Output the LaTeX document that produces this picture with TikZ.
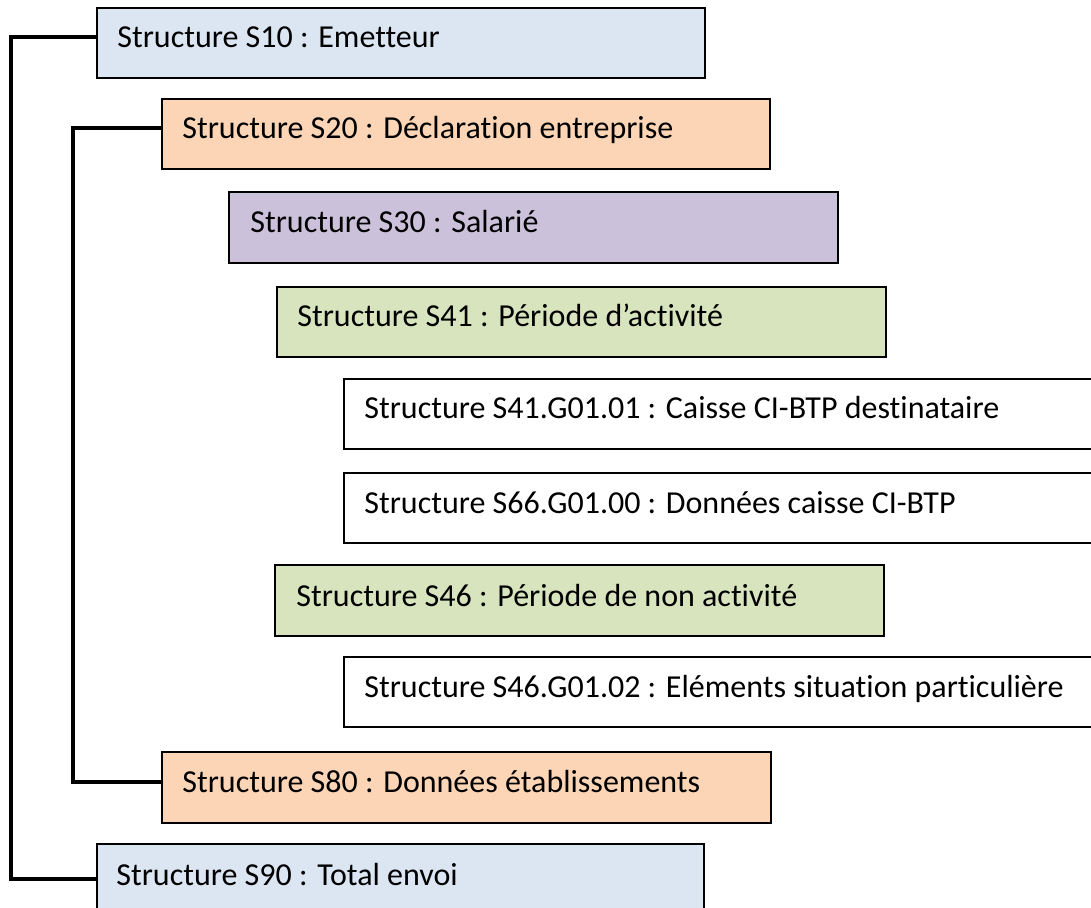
\documentclass[tikz,border=0pt]{standalone}
\usepackage{fontspec}
\setmainfont[Ligatures={NoCommon,NoRare}]{Carlito}
\definecolor{cblue}{HTML}{DCE6F2}
\definecolor{cpeach}{HTML}{FBD5B5}
\definecolor{cpurple}{HTML}{CCC1DA}
\definecolor{cgreen}{HTML}{D7E4BD}
\tikzset{
  box/.style={draw=black, line width=1pt, anchor=north west, inner sep=0pt, minimum height=35pt},
  lbl/.style={anchor=base west, inner sep=0pt, font=\fontsize{16}{19}\selectfont, text=black},
  bracket/.style={draw=black, line width=2pt, line cap=rect}
}
\begin{document}
\begin{tikzpicture}[x=0.5pt, y=-0.5pt]
\useasboundingbox (0,0) rectangle (1091,908);
\clip (0,0) rectangle (1091,908);
\fill[white] (0,0) rectangle (1091,908);
% boxes
\node[box, fill=cblue,   minimum width=304pt] (s10) at (96,7) {};
\node[box, fill=cpeach,  minimum width=304pt] (s20) at (161,98) {};
\node[box, fill=cpurple, minimum width=304.5pt, minimum height=35.5pt] (s30) at (228,191) {};
\node[box, fill=cgreen,  minimum width=304.5pt] (s41) at (276,286) {};
\node[box, fill=white,   minimum width=380pt] (s41g) at (343,378) {};
\node[box, fill=white,   minimum width=380pt] (s66g) at (343,472) {};
\node[box, fill=cgreen,  minimum width=304.5pt, minimum height=35.5pt] (s46) at (274,564) {};
\node[box, fill=white,   minimum width=380pt] (s46g) at (343,656) {};
\node[box, fill=cpeach,  minimum width=304.5pt, minimum height=35.5pt] (s80) at (161,751) {};
\node[box, fill=cblue,   minimum width=303.5pt] (s90) at (96,843) {};
% labels
\node[lbl] (t10) at ([shift={(21,41)}]s10.north west) {Structure S10 : Emetteur};
\node[lbl] (t20) at ([shift={(21,41)}]s20.north west) {Structure S20 : Déclaration entreprise};
\node[lbl] (t30) at ([shift={(22,42)}]s30.north west) {Structure S30 : Salarié};
\node[lbl] (t41) at ([shift={(21,41)}]s41.north west) {Structure S41 : Période d’activité};
\node[lbl] (t41g) at ([shift={(21,41)}]s41g.north west) {Structure S41.G01.01 : Caisse CI-BTP destinataire};
\node[lbl] (t66g) at ([shift={(21,41)}]s66g.north west) {Structure S66.G01.00 : Données caisse CI-BTP};
\node[lbl] (t46) at ([shift={(22,42)}]s46.north west) {Structure S46 : Période de non activité};
\node[lbl] (t46g) at ([shift={(21,41)}]s46g.north west) {Structure S46.G01.02 : Eléments situation particulière};
\node[lbl] (t80) at ([shift={(21,41)}]s80.north west) {Structure S80 : Données établissements};
\node[lbl] (t90) at ([shift={(20,42)}]s90.north west) {Structure S90 : Total envoi};
% brackets
\draw[bracket] ([yshift=3]s10.west) -- ++(-85,0) coordinate (o1) |- (s90.west);
\draw[bracket] ([yshift=3]s20.west) -- ++(-88,0) coordinate (i1) |- ([yshift=3]s80.west);
\end{tikzpicture}
\end{document}
